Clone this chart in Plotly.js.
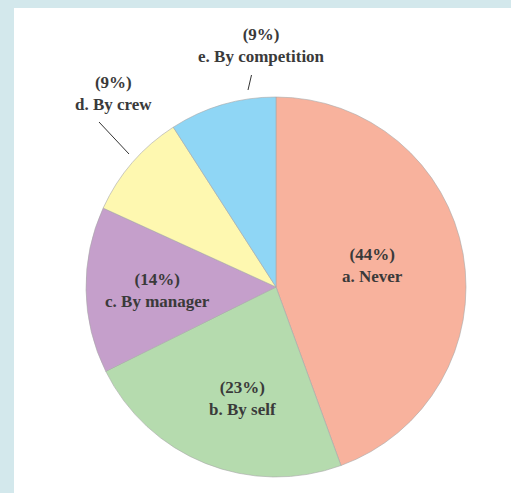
<!DOCTYPE html>
<html>
<head>
<meta charset="utf-8">
<script src="https://cdn.plot.ly/plotly-3.0.1.min.js"></script>
<style>html,body{margin:0;padding:0;background:#d3e8ec;}#chart{width:511px;height:493px;}</style>
</head>
<body>
<div id="chart"></div>
<script>
const categories = ["a. Never", "b. By self", "c. By manager", "d. By crew", "e. By competition"];
const percents = [44, 23, 14, 9, 9];
const sliceColors = ["#f8b29d", "#b5dbae", "#c59fcb", "#fef8b0", "#8fd6f5"];

const W = 511, H = 493;
const px = x => x / W;
const py = y => 1 - y / H;

// label centers (pixels)
const labelPos = [[372, 265], [242, 398], [157, 290], [113, 93], [261, 46]];

const annotations = categories.map((c, i) => ({
  x: px(labelPos[i][0]), y: py(labelPos[i][1]), xref: "paper", yref: "paper",
  text: "(" + percents[i] + "%)<br>" + c, showarrow: false,
  xanchor: "center", yanchor: "middle",
  font: {family: "Liberation Serif, serif", size: 17, color: "#3a3a3a", weight: "bold"}
}));

const shapes = [
  {type: "rect", xref: "paper", yref: "paper", x0: px(14), x1: 1, y0: 0, y1: py(8),
   fillcolor: "#ffffff", line: {width: 0}, layer: "below"},
  {type: "line", xref: "paper", yref: "paper", x0: px(99), y0: py(122), x1: px(129), y1: py(154),
   line: {color: "#333333", width: 1}},
  {type: "line", xref: "paper", yref: "paper", x0: px(251.5), y0: py(75), x1: px(248), y1: py(90),
   line: {color: "#333333", width: 1}}
];

const trace = {
  type: "pie",
  labels: categories,
  values: percents,
  sort: false,
  direction: "clockwise",
  rotation: 0,
  textinfo: "none",
  hoverinfo: "label+value",
  marker: {colors: sliceColors, line: {color: "#a8a8a8", width: 0.6}},
  domain: {x: [px(86), px(466)], y: [py(477), py(97)]},
  showlegend: false
};

Plotly.newPlot("chart", [trace], {
  width: W, height: H,
  margin: {l: 0, r: 0, t: 0, b: 0},
  paper_bgcolor: "#d3e8ec",
  showlegend: false,
  shapes: shapes,
  annotations: annotations
}, {displayModeBar: false, staticPlot: true});
</script>
</body>
</html>
